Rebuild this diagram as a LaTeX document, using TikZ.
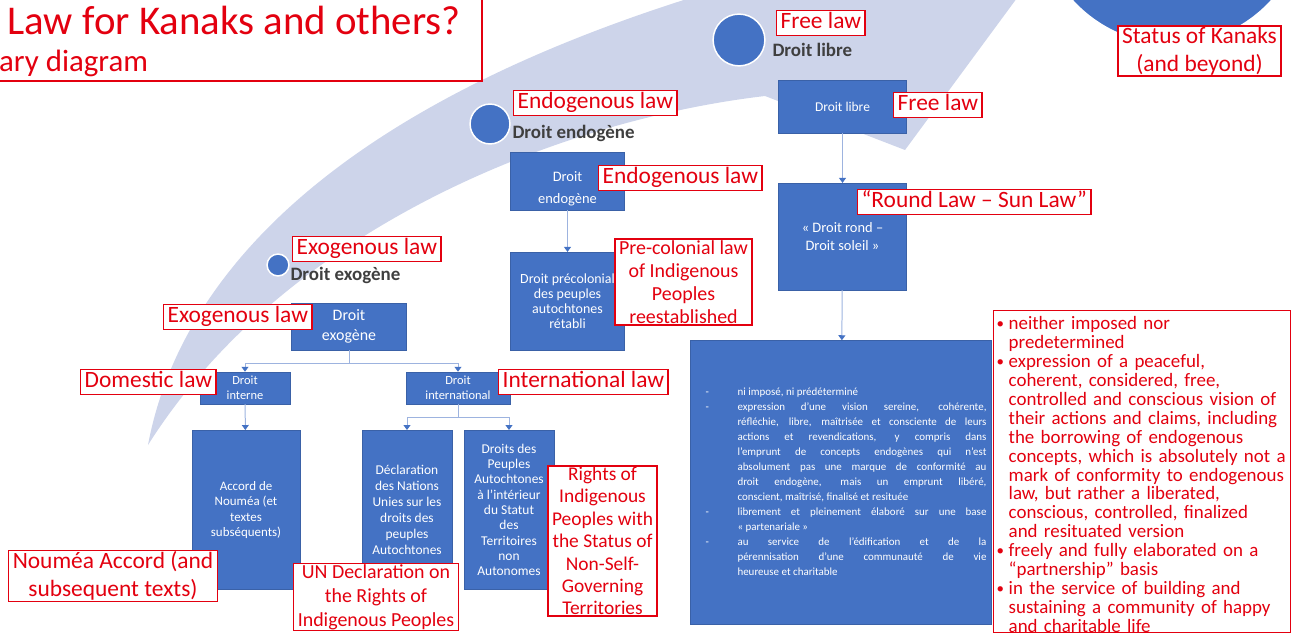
\documentclass[tikz,border=0pt]{standalone}
\usepackage{fontspec}
\setmainfont{Carlito}
\usetikzlibrary{positioning,arrows.meta}
\definecolor{boxblue}{HTML}{4472C4}
\definecolor{bandgray}{HTML}{CDD4EA}
\definecolor{labred}{HTML}{E3000F}
\definecolor{linkblue}{HTML}{9DB3DF}
\definecolor{darktext}{HTML}{3F3F3F}
\newcommand{\dashitem}[1]{\par\hangindent=32bp\hangafter=1\noindent\makebox[32bp][l]{-}#1\par}
\newcommand{\reditem}[1]{\par\hangindent=12bp\hangafter=1\noindent\makebox[12bp][l]{\raisebox{0.15ex}{\fontsize{15}{15}\selectfont•}}#1\par}
\tikzset{
  lawbox/.style={fill=boxblue, draw=boxblue!85!black, line width=0.6pt, text=white, align=center, inner sep=1pt},
  redlabel/.style={draw=labred, line width=1.4pt, fill=white, text=labred, align=center,
    font=\fontsize{23.5}{28}\selectfont, inner xsep=4pt, inner ysep=1pt},
  tag/.style={redlabel, anchor=west, text height=17pt, text depth=6pt},
  smalltag/.style={redlabel, font=\fontsize{20}{24}\selectfont},
  stem/.style={draw=linkblue, line width=1pt},
  link/.style={stem, -{Triangle[width=7pt,length=5pt,color=boxblue]}},
  dot/.style={circle, fill=boxblue, draw=white, line width=1.5pt, inner sep=0pt},
  stage/.style={text=darktext, anchor=west, font=\bfseries\fontsize{19}{22}\selectfont}
}
\begin{document}
\begin{tikzpicture}[x=1bp, y=-1bp]
  \useasboundingbox (0,0) rectangle (1304,636);
  \clip (0,0) rectangle (1304,636);

  % the big curved arrow behind everything
  \fill[bandgray] (148,445) .. controls (178,285) and (320,115) .. (690,-2)
    -- (720,-60) -- (1045,-40) -- (905,150) -- (765,96)
    .. controls (560,120) and (285,228) .. (148,445) -- cycle;

  % title
  \draw[labred, line width=1.4pt] (-10,-10) rectangle (482,81);
  \node[text=labred, anchor=west, font=\fontsize{41}{44}\selectfont] (title) at (4,20) {Law for Kanaks and others?};
  \node[text=labred, anchor=west, font=\fontsize{31}{34}\selectfont, inner sep=0pt] (subtitle) at (-1,63) {ary diagram};

  % stages along the arrow
  \node[dot, minimum size=270] (kanaks) at (1172,-90) {};
  \node[dot, minimum size=52] (cfree) at (739,40) {};
  \node[dot, minimum size=40] (cendo) at (490,124) {};
  \node[dot, minimum size=22] (cexo) at (278,265) {};
  \node[stage] (sfree) at (769,50) {Droit libre};
  \node[stage] (sendo) at (509,133) {Droit endogène};
  \node[stage] (sexo) at (287,275) {Droit exogène};

  % exogenous tree
  \node[lawbox, minimum width=116, minimum height=47, font=\fontsize{16}{20}\selectfont] (exo) at (349,326.5) {Droit\\exogène};
  \node[lawbox, minimum width=90, minimum height=32, font=\fontsize{12.5}{15}\selectfont] (interne) at (245,388) {Droit\\interne};
  \node[lawbox, minimum width=104, minimum height=32, font=\fontsize{12.5}{15}\selectfont] (intl) at (458,388) {Droit\\international};
  \node[lawbox, minimum width=108, minimum height=160, font=\fontsize{13}{15.5}\selectfont] (accord) at (246,510) {Accord de\\Nouméa (et\\textes\\subséquents)};
  \node[lawbox, minimum width=90, minimum height=160, font=\fontsize{13.5}{16}\selectfont] (undecl) at (407,510) {Déclaration\\des Nations\\Unies sur les\\droits des\\peuples\\Autochtones};
  \node[lawbox, minimum width=90, minimum height=160, font=\fontsize{13.5}{15.4}\selectfont] (droits) at (509,510) {Droits des\\Peuples\\Autochtones\\à l'intérieur\\du Statut\\des\\Territoires\\non\\Autonomes};

  \draw[stem] (exo.south) -- ++(0,13) coordinate (exofork);
  \draw[link] (exofork) -| (interne);
  \draw[link] (exofork) -| (intl);
  \draw[link] (interne) -- (accord);
  \draw[stem] (intl.south) -- ++(0,13) coordinate (intlfork);
  \draw[link] (intlfork) -| (undecl);
  \draw[link] (intlfork) -| (droits);

  % endogenous column
  \node[lawbox, minimum width=115, minimum height=58, text height=45pt, text depth=0pt,
    font=\fontsize{14.5}{21.5}\selectfont] (endo) at (567.5,181) {Droit\\endogène};
  \node[lawbox, minimum width=115, minimum height=98, font=\fontsize{14}{15}\selectfont] (precol) at (567.5,301) {Droit précolonial\\des peuples\\autochtones\\rétabli};
  \draw[link] (endo) -- (precol);

  % free column
  \node[lawbox, minimum width=129, minimum height=53, font=\fontsize{13.5}{16}\selectfont] (libre) at (842.5,106.5) {Droit libre};
  \node[lawbox, minimum width=129, minimum height=107, font=\fontsize{14.5}{17.5}\selectfont] (rond) at (842.5,236.5) {« Droit rond –\\Droit soleil »};
  \node[lawbox, minimum width=302, minimum height=285] (freebox) at (841,482.5) {};
  \node[text=white, text width=282, align=justify, inner sep=0pt,
    font=\fontsize{11}{15}\selectfont] (freetext) at (846,478) {%
    \dashitem{ni imposé, ni prédéterminé}
    \dashitem{expression d'une vision sereine, cohérente,\linebreak réfléchie, libre, maîtrisée et consciente de leurs\linebreak actions et revendications, y compris dans\linebreak l'emprunt de concepts endogènes qui n'est\linebreak absolument pas une marque de conformité au\linebreak droit endogène, mais un emprunt libéré,\linebreak conscient, maîtrisé, finalisé et resituée}
    \dashitem{librement et pleinement élaboré sur une base\linebreak « partenariale »}
    \dashitem{au service de l'édification et de la\linebreak pérennisation d'une communauté de vie\linebreak heureuse et charitable}};
  \draw[link] (libre) -- (rond);
  \draw[link] (rond) -- (freebox);

  % red English labels
  \node[tag] (lfreetop) at (776,23) {Free law};
  \node[tag] (lfree) at (893,105) {Free law};
  \node[tag] (lendotop) at (513,103) {Endogenous law};
  \node[tag] (lendo) at (598,178) {Endogenous law};
  \node[tag] (lexotop) at (292,249) {Exogenous law};
  \node[tag] (lexo) at (163,317) {Exogenous law};
  \node[tag] (ldom) at (80,382) {Domestic law};
  \node[tag] (lintl) at (498,382) {International law};
  \node[tag] (lround) at (857,202) {“Round Law – Sun Law”};
  \node[smalltag, font=\fontsize{20}{23.3}\selectfont] (lprecol) at (683.5,282) {Pre-colonial law\\of Indigenous\\Peoples\\reestablished};
  \node[redlabel] (lnoumea) at (113,576) {Nouméa Accord (and\\subsequent texts)};
  \node[smalltag] (lundecl) at (376,597) {UN Declaration on\\the Rights of\\Indigenous Peoples};
  \node[smalltag, font=\fontsize{19.5}{22.5}\selectfont] (lrights) at (602.5,541) {Rights of\\Indigenous\\Peoples with\\the Status of\\Non-Self-\\Governing\\Territories};
  \node[redlabel] (lstatus) at (1199.5,51) {Status of Kanaks\\(and beyond)};
  \node[redlabel, anchor=north west, text width=292, align=left, inner xsep=3pt, inner ysep=0pt,
    font=\fontsize{19}{19}\selectfont] (llist) at (993,310) {%
    \reditem{neither imposed nor\newline predetermined}
    \reditem{expression of a peaceful,\newline coherent, considered, free,\newline controlled and conscious vision of\newline their actions and claims, including\newline the borrowing of endogenous\newline concepts, which is absolutely not a\newline mark of conformity to endogenous\newline law, but rather a liberated,\newline conscious, controlled, finalized\newline and resituated version}
    \reditem{freely and fully elaborated on a\newline “partnership” basis}
    \reditem{in the service of building and\newline sustaining a community of happy\newline and charitable life}};
\end{tikzpicture}
\end{document}
